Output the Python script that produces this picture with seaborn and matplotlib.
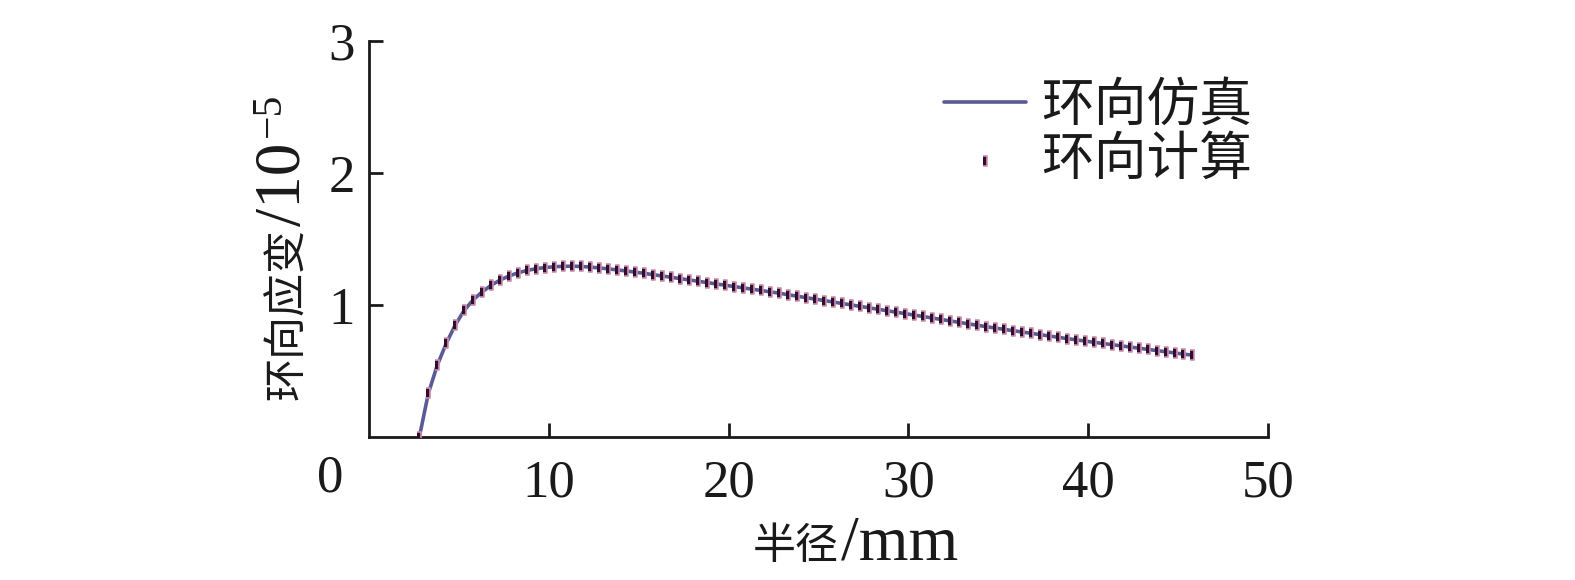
import numpy as np
import pandas as pd
import matplotlib
matplotlib.use("Agg")
import matplotlib.pyplot as plt
import seaborn as sns

# ---- data ----
radius_mm = [2.8, 3.3, 3.8, 4.3, 4.8, 5.3, 5.8, 6.3, 6.8, 7.3,
             7.8, 8.3, 8.8, 9.3, 9.8, 10.3, 10.8, 11.3, 11.8, 12.3,
             12.8, 13.3, 13.8, 14.3, 14.8, 15.3, 15.8, 16.3, 16.8, 17.3,
             17.8, 18.3, 18.8, 19.3, 19.8, 20.3, 20.8, 21.3, 21.8, 22.3,
             22.8, 23.3, 23.8, 24.3, 24.8, 25.3, 25.8, 26.3, 26.8, 27.3,
             27.8, 28.3, 28.8, 29.3, 29.8, 30.3, 30.8, 31.3, 31.8, 32.3,
             32.8, 33.3, 33.8, 34.3, 34.8, 35.3, 35.8, 36.3, 36.8, 37.3,
             37.8, 38.3, 38.8, 39.3, 39.8, 40.3, 40.8, 41.3, 41.8, 42.3,
             42.8, 43.3, 43.8, 44.3, 44.8, 45.3, 45.8]
hoop_sim = [0.00, 0.33, 0.545, 0.71, 0.85, 0.96, 1.04, 1.10, 1.15, 1.19,
            1.22, 1.245, 1.262, 1.275, 1.284, 1.29, 1.293, 1.294, 1.292, 1.287,
            1.281, 1.274, 1.266, 1.258, 1.249, 1.24, 1.23, 1.22, 1.21, 1.20,
            1.19, 1.18, 1.17, 1.16, 1.15, 1.14, 1.13, 1.12, 1.11, 1.10,
            1.09, 1.078, 1.067, 1.056, 1.045, 1.034, 1.023, 1.012, 1.001, 0.99,
            0.979, 0.968, 0.957, 0.946, 0.935, 0.924, 0.913, 0.902, 0.891, 0.88,
            0.869, 0.858, 0.847, 0.837, 0.826, 0.816, 0.806, 0.796, 0.786, 0.776,
            0.766, 0.756, 0.746, 0.737, 0.727, 0.718, 0.709, 0.70, 0.691, 0.682,
            0.673, 0.664, 0.655, 0.646, 0.637, 0.628, 0.62]
hoop_calc = list(hoop_sim)
x_ticks = [10, 20, 30, 40, 50]
y_ticks = [1, 2, 3]
series_names = ["环向仿真", "环向计算"]
xlabel_parts = ["半径", "/mm"]
ylabel_parts = ["环向应变", "/10", "−5"]

df = pd.DataFrame({"r": radius_mm, "sim": hoop_sim, "calc": hoop_calc})

sns.set_style("ticks")
plt.rcParams["font.family"] = ["Liberation Serif", "Noto Sans CJK SC", "DejaVu Sans"]
INK = "#1a1a1a"

W, H = 1575, 580
fig = plt.figure(figsize=(W / 100, H / 100), dpi=100)
ax = fig.add_axes([369 / W, 1 - 437 / H, (1268 - 369) / W, (437 - 41) / H])

sns.lineplot(data=df, x="r", y="sim", ax=ax, color="#5a5a96", linewidth=2.6,
             label=series_names[0], zorder=2)
bar_marker = [(-0.42, -1), (0.42, -1), (0.42, 1), (-0.42, 1)]
sns.scatterplot(data=df, x="r", y="calc", ax=ax, marker=bar_marker, s=60,
                color="#2e0f2a", edgecolor="#cf8fb2", linewidth=1.2,
                label=series_names[1], zorder=3)

ax.set_xlim(0, 50)
ax.set_ylim(0, 3)
ax.set_xticks(x_ticks)
ax.set_yticks(y_ticks)
ax.set_xticklabels([str(t) for t in x_ticks])
ax.set_yticklabels([str(t) for t in y_ticks])
ax.set_xlabel("")
ax.set_ylabel("")
for s in ["top", "right"]:
    ax.spines[s].set_visible(False)
for s in ["left", "bottom"]:
    ax.spines[s].set_linewidth(2.0)
    ax.spines[s].set_color(INK)
ax.tick_params(direction="in", length=10, width=2.0, colors=INK,
               labelsize=38, labelcolor=INK)
ax.tick_params(axis="x", pad=16)
ax.tick_params(axis="y", pad=10)

ax.text(-0.043, -0.105, "0", transform=ax.transAxes, fontsize=38,
        ha="center", va="center", color=INK)

leg = ax.legend(loc="upper left", bbox_to_anchor=(0.61, 0.975), frameon=False,
                prop={"family": ["Noto Sans CJK SC"], "size": 38},
                handlelength=1.55, handletextpad=0.3, labelspacing=0.0,
                borderpad=0.0, markerscale=1.0)
for t in leg.get_texts():
    t.set_color(INK)

# ---- axis labels built from pieces (CJK + larger serif Latin) ----
fig.canvas.draw()
renderer = fig.canvas.get_renderer()

# x label: baseline near y=559 px, starts at x=753 px
x0, yb = 753, H - 559
t1 = fig.text(x0 / W, yb / H, xlabel_parts[0], fontsize=31, color=INK,
              family=["Noto Sans CJK SC"], ha="left", va="baseline")
e1 = t1.get_window_extent(renderer)
fig.text((e1.x1 + 2) / W, yb / H, xlabel_parts[1], fontsize=46, color=INK,
         family=["Liberation Serif"], ha="left", va="baseline")

# y label: rotated, baseline at x=300 px, starts at y=400 px from top
xb, y0 = 300, H - 400
p1 = fig.text(xb / W, y0 / H, ylabel_parts[0], fontsize=31, color=INK,
              family=["Noto Sans CJK SC"], rotation=90, rotation_mode="anchor",
              ha="left", va="baseline")
ep1 = p1.get_window_extent(renderer)
p2 = fig.text(xb / W, (ep1.y1 + 2) / H, ylabel_parts[1], fontsize=47, color=INK,
              family=["Liberation Serif"], rotation=90, rotation_mode="anchor",
              ha="left", va="baseline")
ep2 = p2.get_window_extent(renderer)
fig.text((xb - 20) / W, (ep2.y1 + 6) / H, ylabel_parts[2], fontsize=30, color=INK,
         family=["Liberation Serif", "DejaVu Sans"], rotation=90,
         rotation_mode="anchor", ha="left", va="baseline")

fig.savefig("out.png", dpi=100)
